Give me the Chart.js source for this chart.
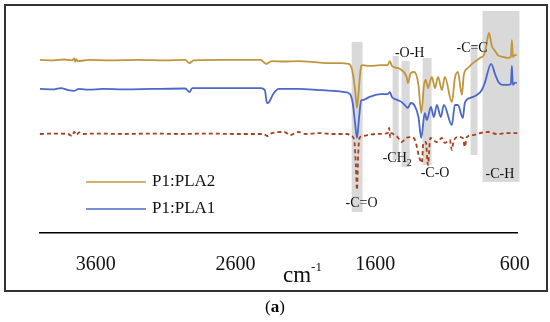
<!DOCTYPE html>
<html>
<head>
<meta charset="utf-8">
<script src="https://cdn.jsdelivr.net/npm/chart.js@4/dist/chart.umd.min.js"></script>
<style>
    html, body { margin: 0; padding: 0; background: #fff; }
    #wrap { position: relative; width: 550px; height: 322px; }
    #frame { position: absolute; left: 4px; top: 4px; width: 540px; height: 284px; border: 2px solid #333; }
    #ftir { position: absolute; left: 0; top: 0; }
    #caption { position: absolute; left: 0; top: 297px; width: 550px; text-align: center;
        font: 17px 'Liberation Serif', serif; color: #000; }
</style>
</head>
<body>
<div id="wrap">
    <div id="frame"></div>
    <canvas id="ftir" width="550" height="322"></canvas>
    <div id="caption">(<b>a</b>)</div>
</div>
<script>
// Spectra (wavenumber cm-1, transmittance a.u.)
const goldWn = [4000, 3900, 3830, 3770, 3755, 3748, 3740, 3730, 3650, 3500, 3300, 3100, 2960, 2930, 2900, 2700,
    2420, 2380, 2340, 2250, 2150, 2050, 1950, 1850, 1790, 1765, 1745, 1730, 1715, 1700, 1690, 1640, 1560, 1510,
    1495, 1480, 1440, 1410, 1375, 1365, 1345, 1320, 1290, 1270, 1250, 1237, 1222, 1194, 1172, 1150, 1122, 1101,
    1051, 1029, 1008, 979, 965, 936, 900, 850, 822, 807, 785, 765, 740, 722, 686, 650, 628, 621, 614, 600, 586];
const goldT = [77.6, 77.4, 77.8, 77.4, 78.3, 76.8, 78.0, 77.1, 77.6, 77.4, 77.6, 77.4, 77.6, 76.2, 77.4, 77.6,
    77.6, 75.8, 77.1, 76.9, 77.1, 76.7, 76.2, 76.2, 75.8, 73.1, 65.0, 56.1, 66.0, 74.9, 75.3, 74.9, 75.3, 75.3,
    77.1, 74.9, 74.0, 73.1, 70.0, 67.3, 71.7, 72.2, 66.4, 53.8, 66.4, 68.6, 65.0, 70.0, 65.0, 70.0, 64.1, 70.0,
    58.7, 69.5, 72.2, 61.9, 70.9, 74.0, 76.2, 78.5, 79.8, 83.0, 89.7, 84.0, 81.5, 79.8, 79.0, 78.5, 79.0, 86.5, 78.9, 79.8, 79.8];

const blueWn = [4000, 3900, 3850, 3800, 3760, 3720, 3650, 3550, 3400, 3200, 2960, 2930, 2910, 2700, 2420, 2390,
    2375, 2360, 2330, 2290, 2150, 2000, 1900, 1820, 1780, 1760, 1745, 1730, 1715, 1700, 1690, 1640, 1560, 1510,
    1495, 1480, 1440, 1410, 1375, 1365, 1345, 1320, 1290, 1270, 1245, 1230, 1201, 1180, 1158, 1130, 1108, 1051,
    1029, 1008, 972, 958, 922, 872, 836, 815, 770, 740, 715, 686, 650, 628, 621, 614, 600, 586];
const blueT = [64.6, 64.4, 65.0, 64.1, 63.7, 64.6, 64.3, 64.6, 64.4, 64.6, 64.8, 63.2, 65.0, 65.0, 65.0, 64.1,
    58.3, 58.7, 62.3, 64.6, 64.6, 64.1, 63.7, 63.2, 62.3, 58.0, 50.0, 42.6, 52.0, 59.6, 59.6, 61.0, 62.3, 62.3,
    63.2, 61.0, 59.6, 58.7, 56.5, 56.1, 58.3, 57.4, 52.0, 42.6, 53.8, 50.7, 56.5, 52.0, 57.4, 52.0, 57.4, 48.4,
    57.4, 57.4, 51.6, 58.3, 60.5, 61.9, 64.1, 67.3, 75.8, 71.0, 67.5, 66.4, 66.4, 66.8, 74.9, 66.4, 67.3, 67.3];

const redWn = [4000, 3900, 3800, 3770, 3755, 3740, 3720, 3700, 3600, 3400, 3200, 3000, 2800, 2600, 2400, 2370,
    2340, 2250, 2210, 2150, 2100, 2000, 1900, 1800, 1770, 1750, 1738, 1730, 1722, 1712, 1690, 1600, 1510, 1500,
    1493, 1485, 1460, 1440, 1410, 1380, 1345, 1315, 1285, 1266, 1255, 1237, 1222, 1205, 1158, 1122, 1101, 1065,
    1051, 1040, 1008, 972, 958, 944, 900, 850, 793, 729, 657, 578];
const redT = [44.4, 44.6, 44.4, 43.5, 45.3, 43.9, 45.1, 44.4, 44.6, 44.4, 44.6, 44.4, 44.6, 44.4, 44.4, 43.5,
    44.8, 45.3, 43.9, 45.3, 44.4, 44.8, 44.4, 44.4, 43.5, 41.7, 30.0, 19.3, 35.0, 42.6, 43.5, 44.4, 44.8, 47.1,
    43.0, 44.8, 43.9, 43.0, 40.8, 42.6, 43.0, 41.7, 34.1, 31.4, 40.4, 40.8, 30.5, 42.6, 40.8, 42.6, 40.4, 41.7,
    37.2, 40.8, 43.0, 42.6, 38.6, 43.0, 43.9, 44.8, 45.3, 44.4, 44.8, 44.8];

const seriesLabels = ['P1:PLA2', 'P1:PLA1', 'P1'];
const xTicks = [3600, 2600, 1600, 600];

// Assignment bands (cm-1 from/to, T top/bottom)
const bandFrom = [1768, 1475, 1411, 1260, 917, 831];
const bandTo = [1690, 1432, 1353, 1196, 867, 567];
const bandTop = [85.7, 79.4, 77.1, 78.5, 84.3, 99.6];
const bandBottom = [9.4, 32.7, 29.6, 30.5, 35.0, 22.9];

const peakLabels = ['-C=O', '-CH', '-C-O', '-C-H', '-O-H', '-C=C'];
const peakLabelWn = [1697, 1546, 1171, 706, 1353, 906];
const peakLabelT = [13.5, 33.6, 26.9, 26.5, 80.7, 83.0];

const toPoints = (wn, t) => wn.map((x, i) => ({ x: x, y: t[i] }));
const serif = "'Liberation Serif', 'Times New Roman', serif";

// gray bands behind the spectra
const bandsPlugin = {
    id: 'bands',
    beforeDatasetsDraw(chart) {
        const { ctx, scales: { x, y } } = chart;
        ctx.save();
        ctx.fillStyle = '#d9d9d9';
        bandFrom.forEach((from, i) => {
            const x1 = x.getPixelForValue(from);
            const x2 = x.getPixelForValue(bandTo[i]);
            const y1 = y.getPixelForValue(bandTop[i]);
            const y2 = y.getPixelForValue(bandBottom[i]);
            ctx.fillRect(x1, y1, x2 - x1, y2 - y1);
        });
        ctx.restore();
    }
};

// peak labels, legend and axis unit
const textPlugin = {
    id: 'texts',
    afterDraw(chart) {
        const { ctx, scales: { x, y } } = chart;
        ctx.save();
        ctx.fillStyle = '#111';
        ctx.textBaseline = 'middle';
        ctx.font = '14px ' + serif;
        peakLabels.forEach((txt, i) => {
            const px = x.getPixelForValue(peakLabelWn[i]);
            const py = y.getPixelForValue(peakLabelT[i]);
            if (txt === '-CH') {
                ctx.textAlign = 'left';
                ctx.fillText(txt, px, py);
                const w = ctx.measureText(txt).width;
                ctx.font = '10px ' + serif;
                ctx.fillText('2', px + w, py + 5);
                ctx.font = '14px ' + serif;
            } else {
                ctx.textAlign = 'center';
                ctx.fillText(txt, px, py);
            }
        });

        // legend
        const legendY = [182, 209];
        [0, 1].forEach((d, i) => {
            const ds = chart.data.datasets[d];
            ctx.strokeStyle = ds.borderColor;
            ctx.lineWidth = 1.5;
            ctx.beginPath();
            ctx.moveTo(86, legendY[i]);
            ctx.lineTo(146, legendY[i]);
            ctx.stroke();
            ctx.font = '17px ' + serif;
            ctx.textAlign = 'left';
            ctx.fillStyle = '#111';
            ctx.fillText(ds.label, 152, legendY[i]);
        });

        // unit
        ctx.font = '23px ' + serif;
        ctx.textAlign = 'left';
        ctx.fillText('cm', 283, 276);
        const cw = ctx.measureText('cm').width;
        ctx.font = '13px ' + serif;
        ctx.fillText('-1', 283 + cw, 268);
        ctx.restore();
    }
};

const ctx = document.getElementById('ftir').getContext('2d');
new Chart(ctx, {
    type: 'line',
    data: {
        datasets: [{
            label: seriesLabels[0],
            data: toPoints(goldWn, goldT),
            borderColor: '#c0963c',
            borderWidth: 1.8,
            pointRadius: 0,
            cubicInterpolationMode: 'monotone'
        }, {
            label: seriesLabels[1],
            data: toPoints(blueWn, blueT),
            borderColor: '#4a67c9',
            borderWidth: 1.8,
            pointRadius: 0,
            cubicInterpolationMode: 'monotone'
        }, {
            label: seriesLabels[2],
            data: toPoints(redWn, redT),
            borderColor: '#a8401e',
            borderWidth: 1.8,
            borderDash: [4, 3],
            pointRadius: 0,
            cubicInterpolationMode: 'monotone'
        }]
    },
    options: {
        responsive: false,
        animation: false,
        layout: { padding: { left: 40, right: 32, top: 10, bottom: 0 } },
        plugins: {
            legend: { display: false },
            tooltip: { enabled: false }
        },
        scales: {
            x: {
                type: 'linear',
                reverse: true,
                min: 580,
                max: 4000,
                afterBuildTicks: (scale) => { scale.ticks = xTicks.map(v => ({ value: v })); },
                afterFit: (scale) => { scale.height = 89; },
                grid: { display: false, drawTicks: false },
                border: { display: true, color: '#000', width: 1.5 },
                ticks: {
                    color: '#111',
                    padding: 20,
                    maxRotation: 0,
                    font: { family: serif, size: 20 },
                    callback: (v) => String(v)
                }
            },
            y: {
                display: false,
                min: 0,
                max: 100
            }
        }
    },
    plugins: [bandsPlugin, textPlugin]
});
</script>
</body>
</html>
